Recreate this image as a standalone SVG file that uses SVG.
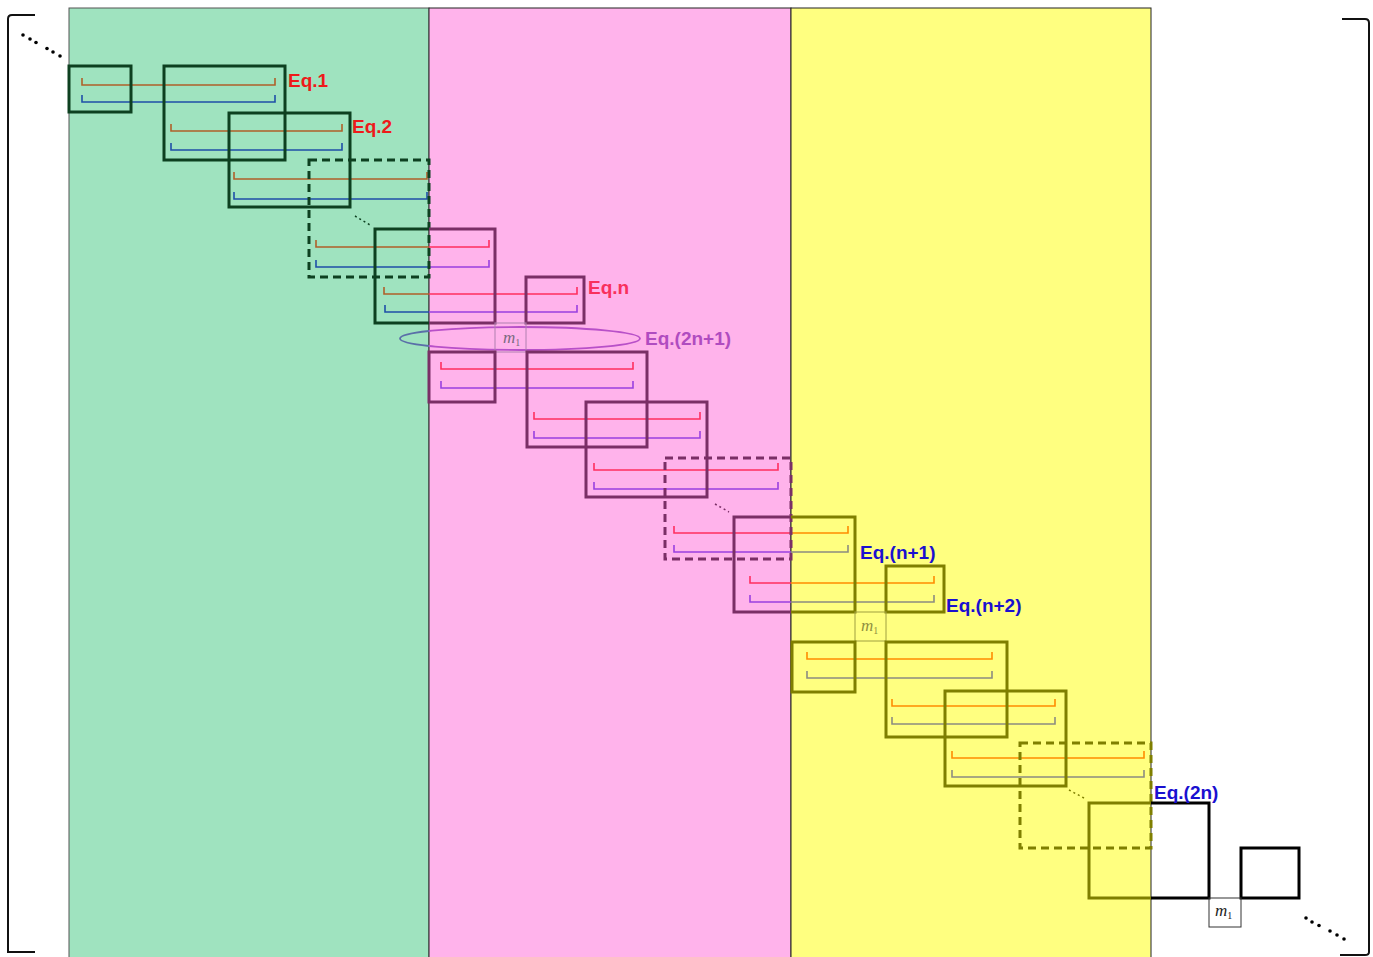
<svg xmlns="http://www.w3.org/2000/svg" width="1373" height="957" viewBox="0 0 1373 957">
<style>
.bx{fill:none;stroke-width:3}
.g{stroke:#0d4020}.p{stroke:#7a2f66}.o{stroke:#7f7f00}.k{stroke:#000}
.d{stroke-dasharray:8 5}
.br{fill:none;stroke-width:1.6}
.brn{stroke:#b0602a}.blu{stroke:#1f4fa8}.red{stroke:#ff2f5f}.vio{stroke:#9a40e0}.org{stroke:#ff8c00}.gry{stroke:#8c8c80}
.eq{font-family:"Liberation Sans",Arial,sans-serif;font-weight:bold;font-size:19px}
.m{font-family:"Liberation Serif","Times New Roman",serif;font-style:italic;font-size:17px}
.dot{fill:#000}
.thin{fill:none;stroke-width:1}
</style>
<defs>
<clipPath id="cl"><rect x="0" y="0" width="429" height="957"/></clipPath>
<clipPath id="cr"><rect x="429" y="0" width="944" height="957"/></clipPath>
</defs>
<g id="panels">
<rect x="69" y="8" width="360" height="952" fill="#9fe3bf" stroke="#555" stroke-width="1"/>
<rect x="429" y="8" width="362" height="952" fill="#ffb3eb" stroke="#222" stroke-width="1"/>
<rect x="791" y="8" width="360" height="952" fill="#ffff80" stroke="#222" stroke-width="1"/>
</g>
<g id="brackets" fill="none" stroke="#111" stroke-width="2">
<path d="M35,15 H12 Q8,15 8,19 V952 H35"/>
<path d="M1342,19 H1365 Q1369,19 1369,23 V952 Q1369,955 1365,955 H1340"/>
</g>
<g id="dots" class="dot">
<circle cx="23" cy="35" r="1.8"/><circle cx="30" cy="39" r="1.8"/><circle cx="36" cy="42.5" r="1.8"/>
<circle cx="47" cy="48.5" r="1.8"/><circle cx="53" cy="52" r="1.8"/><circle cx="60" cy="56" r="1.8"/>
<circle cx="1306" cy="918" r="1.8"/><circle cx="1312" cy="922" r="1.8"/><circle cx="1319" cy="925.5" r="1.8"/>
<circle cx="1330" cy="931" r="1.8"/><circle cx="1337" cy="935" r="1.8"/><circle cx="1344" cy="939" r="1.8"/>
</g>
<g id="ellipsis" fill="none" stroke-width="1.5" stroke-dasharray="2 3">
<line x1="355" y1="216" x2="370" y2="225" stroke="#0d4020"/>
<line x1="715" y1="504" x2="729" y2="512" stroke="#7a2f66"/>
<line x1="1069" y1="790" x2="1084" y2="798" stroke="#7f7f00"/>
</g>
<g id="braces">
<path class="br brn" d="M82,78 V85 H275 V78"/>
<path class="br blu" d="M82,95 V102 H275 V95"/>
<path class="br brn" d="M171,124 V131 H342 V124"/>
<path class="br blu" d="M171,143 V150 H342 V143"/>
<path class="br brn" d="M234,172 V179 H427 V172"/>
<path class="br blu" d="M234,192 V199 H427 V192"/>
<path class="br brn" d="M316,240 V247 H429"/><path class="br red" d="M429,247 H489 V240"/>
<path class="br blu" d="M316,260 V267 H429"/><path class="br vio" d="M429,267 H489 V260"/>
<path class="br brn" d="M384,287 V294 H429"/><path class="br red" d="M429,294 H577 V287"/>
<path class="br blu" d="M385,305 V312 H429"/><path class="br vio" d="M429,312 H577 V305"/>
<path class="br red" d="M441,362 V369 H633 V362"/>
<path class="br vio" d="M441,381 V388 H633 V381"/>
<path class="br red" d="M534,412 V419 H700 V412"/>
<path class="br vio" d="M534,431 V438 H700 V431"/>
<path class="br red" d="M594,463 V470 H778 V463"/>
<path class="br vio" d="M594,482 V489 H778 V482"/>
<path class="br red" d="M674,526 V533 H791"/><path class="br org" d="M791,533 H848 V526"/>
<path class="br vio" d="M674,545 V552 H791"/><path class="br gry" d="M791,552 H848 V545"/>
<path class="br red" d="M750,576 V583 H791"/><path class="br org" d="M791,583 H934 V576"/>
<path class="br vio" d="M750,595 V602 H791"/><path class="br gry" d="M791,602 H934 V595"/>
<path class="br org" d="M807,652 V659 H992 V652"/>
<path class="br gry" d="M807,671 V678 H992 V671"/>
<path class="br org" d="M892,699 V706 H1055 V699"/>
<path class="br gry" d="M892,717 V724 H1055 V717"/>
<path class="br org" d="M952,751 V758 H1144 V751"/>
<path class="br gry" d="M952,770 V777 H1144 V770"/>
</g>
<g id="box-A"><rect class="bx g" x="69" y="66" width="62" height="46"/></g>
<g id="box-B"><rect class="bx g" x="164" y="66" width="121" height="94"/></g>
<g id="box-C"><rect class="bx g" x="229" y="113" width="121" height="94"/></g>
<g id="box-D"><rect class="bx g d" x="309" y="160" width="120" height="117"/></g>
<g id="box-E"><path class="bx g" d="M429,229 H375 V323 H429"/><path class="bx p" d="M429,229 H495 V323 H429"/></g>
<g id="box-F"><rect class="bx p" x="526" y="277" width="58" height="46"/></g>
<g id="ellipse-2n1">
<ellipse cx="520" cy="338.5" rx="120" ry="11.5" fill="none" stroke="#5a6fa8" stroke-width="1.8" clip-path="url(#cl)"/>
<ellipse cx="520" cy="338.5" rx="120" ry="11.5" fill="none" stroke="#b850c8" stroke-width="1.8" clip-path="url(#cr)"/>
</g>
<g id="m1-a"><rect class="thin" x="495" y="323" width="31" height="29" stroke="#b080b0"/>
<text class="m" x="503" y="343" fill="#7a6a80">m<tspan font-size="10" font-style="normal" dy="3">1</tspan></text></g>
<g id="box-G"><rect class="bx p" x="429" y="352" width="66" height="50"/></g>
<g id="box-H"><rect class="bx p" x="527" y="352" width="120" height="95"/></g>
<g id="box-I"><rect class="bx p" x="586" y="402" width="121" height="95"/></g>
<g id="box-J"><rect class="bx p d" x="665" y="458" width="126" height="101"/></g>
<g id="box-K"><path class="bx p" d="M791,517 H734 V612 H791"/><path class="bx o" d="M791,517 H855 V612 H791"/></g>
<g id="box-L"><rect class="bx o" x="886" y="566" width="58" height="46"/></g>
<g id="m1-b"><rect class="thin" x="855" y="612" width="31" height="29" stroke="#a0a040"/>
<text class="m" x="861" y="631" fill="#909040">m<tspan font-size="10" font-style="normal" dy="3">1</tspan></text></g>
<g id="box-M"><rect class="bx o" x="792" y="642" width="63" height="50"/></g>
<g id="box-N"><rect class="bx o" x="886" y="642" width="121" height="95"/></g>
<g id="box-O"><rect class="bx o" x="945" y="691" width="121" height="95"/></g>
<g id="box-P"><rect class="bx o d" x="1020" y="743" width="131" height="105"/></g>
<g id="box-Q"><path class="bx o" d="M1151,803 H1089 V898 H1151"/><path class="bx k" d="M1151,803 H1209 V898 H1151"/></g>
<g id="box-R"><rect class="bx k" x="1241" y="848" width="58" height="50"/></g>
<g id="m1-c"><rect class="thin" x="1209" y="898" width="32" height="29" stroke="#333"/>
<text class="m" x="1215" y="916" fill="#222">m<tspan font-size="10" font-style="normal" dy="3">1</tspan></text></g>
<g id="labels">
<text class="eq" x="288" y="87" fill="#ee1a1a">Eq.1</text>
<text class="eq" x="352" y="133" fill="#ee1a1a">Eq.2</text>
<text class="eq" x="588" y="294" fill="#f8305c">Eq.n</text>
<text class="eq" x="645" y="345" fill="#b04cc0">Eq.(2n+1)</text>
<text class="eq" x="860" y="559" fill="#1a10d0">Eq.(n+1)</text>
<text class="eq" x="946" y="612" fill="#1a10d0">Eq.(n+2)</text>
<text class="eq" x="1154" y="799" fill="#1a10d0">Eq.(2n)</text>
</g>
</svg>
